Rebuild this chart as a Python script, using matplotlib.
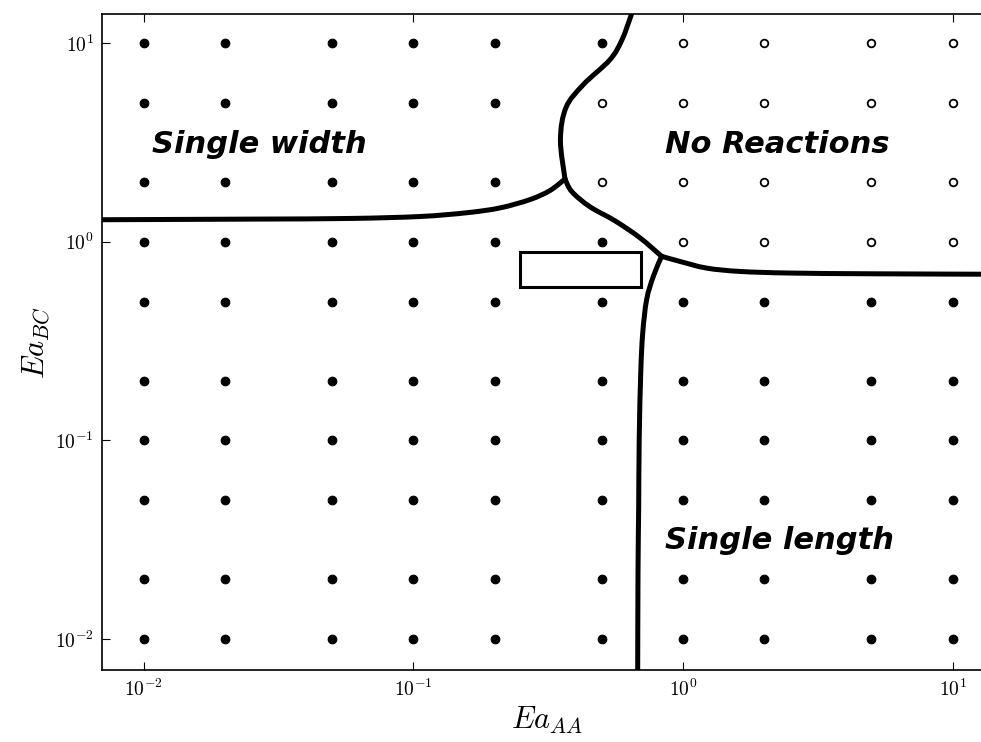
import matplotlib
matplotlib.use("Agg")
import matplotlib.pyplot as plt
from matplotlib.patches import Rectangle, PathPatch
from matplotlib.path import Path
import numpy as np

plt.rcParams['mathtext.fontset'] = 'cm'
plt.rcParams['font.family'] = ['DejaVu Sans']

# grid of simulated parameter values
ea_aa = [0.01, 0.02, 0.05, 0.1, 0.2, 0.5, 1, 2, 5, 10]
ea_bc = [10, 5, 2, 1, 0.5, 0.2, 0.1, 0.05, 0.02, 0.01]
# 1 = reaction (filled), 0 = no reaction (open); rows follow ea_bc
reacted = [
    [1, 1, 1, 1, 1, 1, 0, 0, 0, 0],
    [1, 1, 1, 1, 1, 0, 0, 0, 0, 0],
    [1, 1, 1, 1, 1, 0, 0, 0, 0, 0],
    [1, 1, 1, 1, 1, 1, 0, 0, 0, 0],
    [1, 1, 1, 1, 1, 1, 1, 1, 1, 1],
    [1, 1, 1, 1, 1, 1, 1, 1, 1, 1],
    [1, 1, 1, 1, 1, 1, 1, 1, 1, 1],
    [1, 1, 1, 1, 1, 1, 1, 1, 1, 1],
    [1, 1, 1, 1, 1, 1, 1, 1, 1, 1],
    [1, 1, 1, 1, 1, 1, 1, 1, 1, 1],
]

# phase boundaries
width_bnd_x = [0.006, 0.0247, 0.0581, 0.1057, 0.158, 0.2094, 0.2705, 0.321, 0.365]
width_bnd_y = [1.29, 1.30, 1.31, 1.34, 1.40, 1.48, 1.63, 1.81, 2.07]

upper_bnd_x = [0.365, 0.3511, 0.368, 0.4266, 0.5359, 0.594, 0.645, 0.6637]
upper_bnd_y = [2.07, 3.26, 4.73, 6.17, 8.24, 10.39, 14.04, 15.8]

mid_bnd_x = [0.365, 0.3873, 0.4518, 0.5594, 0.6925, 0.833]
mid_bnd_y = [2.07, 1.785, 1.50, 1.275, 1.047, 0.845]

right_bnd_x = [0.833, 0.975, 1.224, 1.627, 2.495, 5.07, 16.0]
right_bnd_y = [0.845, 0.796, 0.737, 0.709, 0.696, 0.690, 0.686]

length_bnd_x = [0.833, 0.776, 0.733, 0.709, 0.697, 0.688, 0.685, 0.681, 0.679]
length_bnd_y = [0.845, 0.669, 0.511, 0.347, 0.218, 0.1008, 0.0466, 0.0215, 0.006]

box_x = [0.2484, 0.698]
box_y = [0.594, 0.885]

region_labels = ["Single width", "No Reactions", "Single length"]
region_x = [0.0107, 0.857, 0.857]
region_y = [3.08, 3.08, 0.0313]


def smooth_path(xs, ys):
    """Catmull-Rom through the read points, as cubic Bezier segments in log space."""
    p = np.column_stack([np.log10(xs), np.log10(ys)])
    n = len(p)
    verts = [p[0]]
    codes = [Path.MOVETO]
    for i in range(n - 1):
        p0 = p[i - 1] if i > 0 else p[i]
        p1 = p[i]
        p2 = p[i + 1]
        p3 = p[i + 2] if i + 2 < n else p[i + 1]
        c1 = p1 + (p2 - p0) / 6.0
        c2 = p2 - (p3 - p1) / 6.0
        verts += [c1, c2, p2]
        codes += [Path.CURVE4] * 3
    verts = 10 ** np.array(verts)
    return Path(verts, codes)


fig = plt.figure(figsize=(9.81, 7.42), dpi=100)
ax = fig.add_axes([102/981, 72/742, 890/981, 656/742])
ax.set_xscale('log')
ax.set_yscale('log')

for i, yv in enumerate(ea_bc):
    for j, xv in enumerate(ea_aa):
        if reacted[i][j]:
            ax.plot(xv, yv, 'o', color='black', ms=6.2, mew=0.8, zorder=3)
        else:
            ax.plot(xv, yv, 'o', mfc='white', mec='black', ms=5.5, mew=1.3, zorder=3)

for bx, by in [(width_bnd_x, width_bnd_y), (upper_bnd_x, upper_bnd_y),
               (mid_bnd_x, mid_bnd_y), (right_bnd_x, right_bnd_y),
               (length_bnd_x, length_bnd_y)]:
    ax.add_patch(PathPatch(smooth_path(bx, by), fill=False, edgecolor='black',
                           lw=3.6, capstyle='round', joinstyle='round', zorder=4))

ax.add_patch(Rectangle((box_x[0], box_y[0]), box_x[1] - box_x[0], box_y[1] - box_y[0],
                       fill=False, edgecolor='black', lw=2.2, zorder=4))

for t, xv, yv in zip(region_labels, region_x, region_y):
    ax.text(xv, yv, t, fontsize=22, fontweight='bold', fontstyle='italic',
            ha='left', va='center', zorder=5)

ax.set_xlim(0.007, 14)
ax.set_ylim(0.007, 14)
ax.set_xticks([0.01, 0.1, 1, 10])
ax.set_yticks([0.01, 0.1, 1, 10])
ax.set_xticklabels([r'$10^{-2}$', r'$10^{-1}$', r'$10^{0}$', r'$10^{1}$'])
ax.set_yticklabels([r'$10^{-2}$', r'$10^{-1}$', r'$10^{0}$', r'$10^{1}$'])
ax.minorticks_off()
ax.tick_params(which='major', direction='in', length=6, width=0.8, labelsize=14,
               top=True, right=True, pad=6)
for s in ax.spines.values():
    s.set_linewidth(1.2)
ax.spines['right'].set_visible(False)

ax.set_xlabel(r'$Ea_{AA}$', fontsize=22, labelpad=4)
ax.set_ylabel(r'$Ea_{BC}$', fontsize=22, labelpad=2)

fig.savefig('out.png', dpi=100)
